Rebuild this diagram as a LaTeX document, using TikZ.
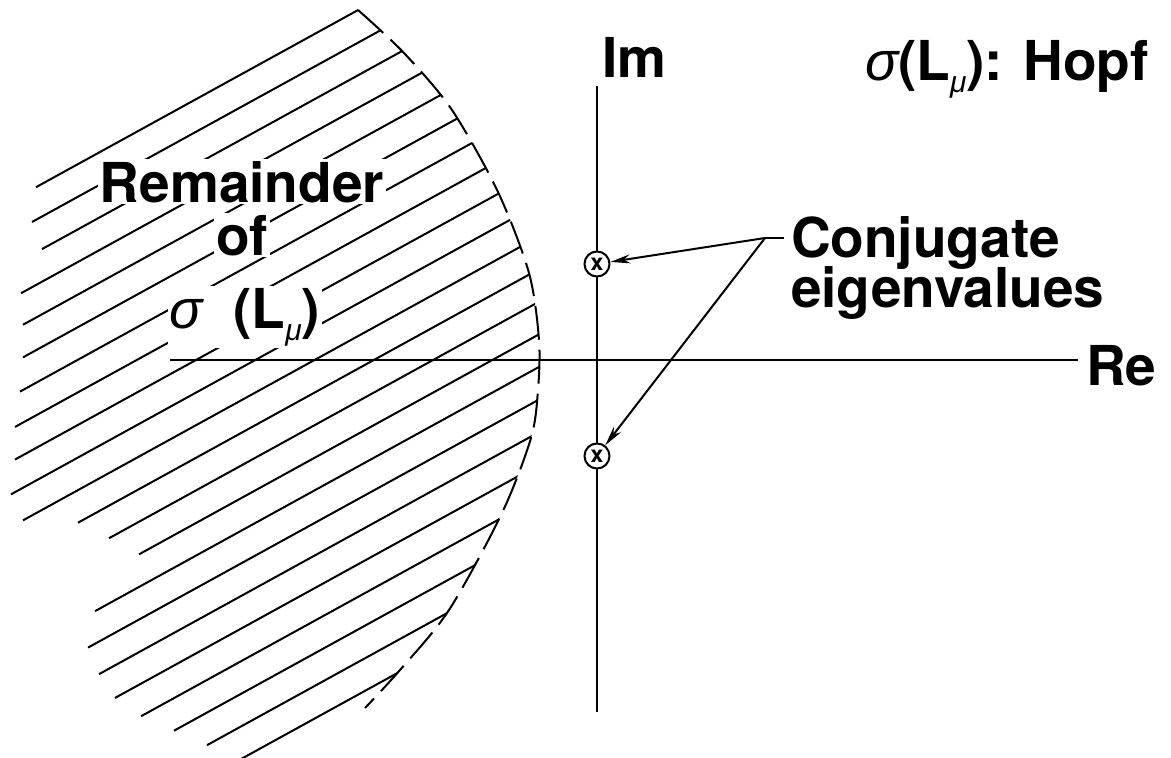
\documentclass[tikz,border=0pt]{standalone}
\usepackage{fontspec}
\setmainfont{TeX Gyre Heros}
\newfontfamily\grk{Liberation Sans}
\usetikzlibrary{arrows.meta}
\newcommand{\sg}{{\grk\itshape\mdseries σ}}
\newcommand{\smu}{\raisebox{-12pt}{\fontsize{30}{30}\selectfont\grk\itshape\mdseries μ}}
\begin{document}
\begin{tikzpicture}[x=1pt,y=-1pt, line width=2pt,
  lbl/.style={font=\fontsize{55}{57}\selectfont\bfseries, inner sep=0pt},
  ko/.style={lbl, fill=white, inner sep=2pt},
  eig/.style={circle, draw, fill=white, minimum size=25pt, inner sep=0pt, line width=2pt, font=\fontsize{23}{23}\selectfont\bfseries},
  hatch/.style={line width=2pt},
  bound/.style={line width=2pt, dash pattern=on 34pt off 10pt},
  arr/.style={-{Stealth[length=20pt,width=9pt]}, line width=2pt}]
\useasboundingbox (0,0) rectangle (1171,758);
% hatched region
\begin{scope}
\clip (358,-100) -- plot[smooth] coordinates{(358,10) (404,53) (452,110) (498,192) (529,273) (539,340) (538,390) (531,438) (502,513) (449,610) (400,670) (365,708)} -- (365,800) -- (-100,800) -- (-100,-100) -- cycle;
\foreach \i/\L in {0/36,1/32,2/42,3/21,4/23,5/23,6/20,7/15,8/15,9/11,10/23,11/78,12/109,13/139,14/95,15/88,16/99,17/115,18/141,19/174,20/207,21/240}
  {\draw[hatch] (\L,{207+32.6*\i-0.55*\L}) -- ++(800,-440);}
\end{scope}
\draw[bound] plot[smooth] coordinates{(358,10) (404,53) (452,110) (498,192) (529,273) (539,340) (538,390) (531,438) (502,513) (449,610) (400,670) (365,708)};
% region label
\node (rem) [ko, anchor=base] at (242,202) {Remainder};
\node (of) [ko, anchor=base] at (242,255) {of};
\node (sig) [ko, anchor=base] at (245,328) {\sg\;\;(L\smu)};
% axes
\node (im) [lbl, anchor=base west] at (601,77) {Im};
\node (re) [lbl, anchor=base west] at (1085,385) {Re};
\coordinate (ytop) at (597,86);
\coordinate (ybot) at (597,712);
\coordinate (xl) at (170,360);
\coordinate (xr) at (1078,360);
\draw (ytop) -- (ybot);
\draw (xl) -- (xr);
% eigenvalues
\node (e1) [eig] at (597,264) {x};
\node (e2) [eig] at (597,456) {x};
\node (conj) [lbl, anchor=base west] at (790,257) {Conjugate};
\node (eigv) [lbl, anchor=base west] at (790,307) {eigenvalues};
\coordinate (J) at (765,238);
\coordinate (Jt) at (784,238);
\draw (Jt) -- (J);
\draw[arr] (J) -- (e1);
\draw[arr] (J) -- (e2);
% title
\node (title) [lbl, anchor=base west] at (864,80) {\sg(L\smu): Hopf};
\end{tikzpicture}
\end{document}
